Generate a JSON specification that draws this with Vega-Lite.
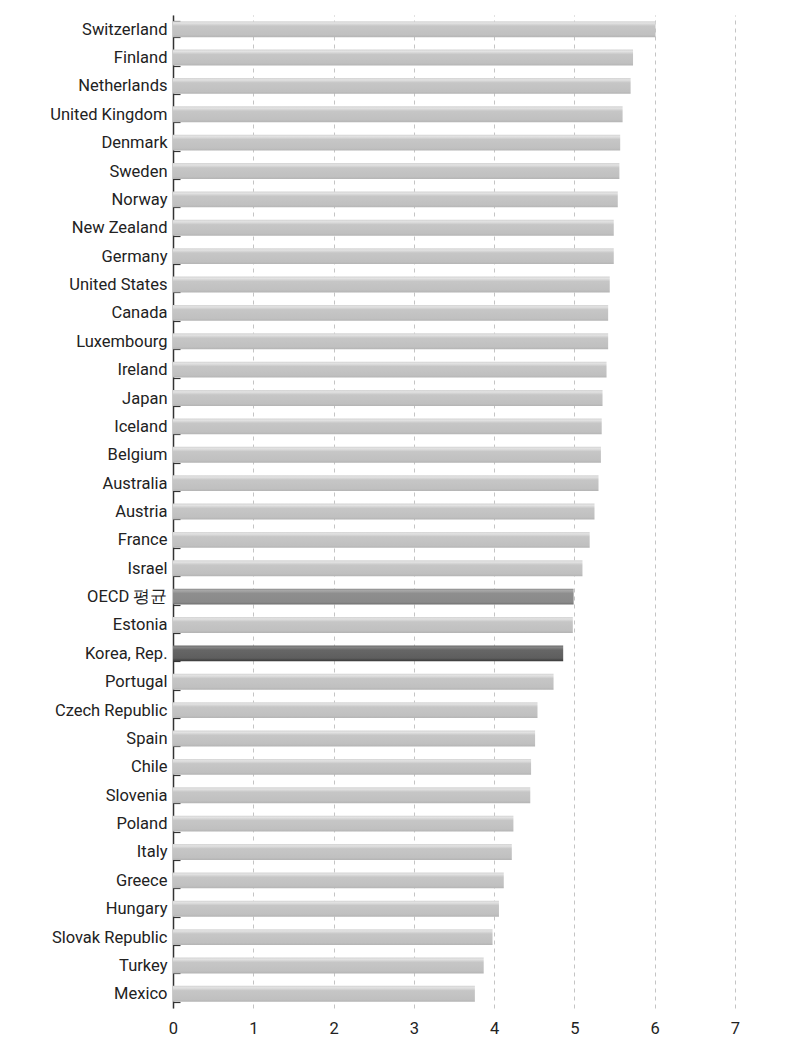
{
  "$schema": "https://vega.github.io/schema/vega-lite/v6.json",
  "width": 562,
  "height": 993,
  "autosize": "none",
  "padding": {"left": 173, "top": 15, "right": 61, "bottom": 55},
  "background": "white",
  "config": {
    "view": {"stroke": null},
    "font": "Roboto"
  },
  "data": {
    "values": [
      {"country": "Switzerland", "value": 6.01, "group": "other"},
      {"country": "Finland", "value": 5.73, "group": "other"},
      {"country": "Netherlands", "value": 5.70, "group": "other"},
      {"country": "United Kingdom", "value": 5.60, "group": "other"},
      {"country": "Denmark", "value": 5.57, "group": "other"},
      {"country": "Sweden", "value": 5.56, "group": "other"},
      {"country": "Norway", "value": 5.54, "group": "other"},
      {"country": "New Zealand", "value": 5.49, "group": "other"},
      {"country": "Germany", "value": 5.49, "group": "other"},
      {"country": "United States", "value": 5.44, "group": "other"},
      {"country": "Canada", "value": 5.42, "group": "other"},
      {"country": "Luxembourg", "value": 5.42, "group": "other"},
      {"country": "Ireland", "value": 5.40, "group": "other"},
      {"country": "Japan", "value": 5.35, "group": "other"},
      {"country": "Iceland", "value": 5.34, "group": "other"},
      {"country": "Belgium", "value": 5.33, "group": "other"},
      {"country": "Australia", "value": 5.30, "group": "other"},
      {"country": "Austria", "value": 5.25, "group": "other"},
      {"country": "France", "value": 5.19, "group": "other"},
      {"country": "Israel", "value": 5.10, "group": "other"},
      {"country": "OECD 평균", "value": 4.99, "group": "oecd"},
      {"country": "Estonia", "value": 4.98, "group": "other"},
      {"country": "Korea, Rep.", "value": 4.86, "group": "korea"},
      {"country": "Portugal", "value": 4.74, "group": "other"},
      {"country": "Czech Republic", "value": 4.54, "group": "other"},
      {"country": "Spain", "value": 4.51, "group": "other"},
      {"country": "Chile", "value": 4.46, "group": "other"},
      {"country": "Slovenia", "value": 4.45, "group": "other"},
      {"country": "Poland", "value": 4.24, "group": "other"},
      {"country": "Italy", "value": 4.22, "group": "other"},
      {"country": "Greece", "value": 4.12, "group": "other"},
      {"country": "Hungary", "value": 4.06, "group": "other"},
      {"country": "Slovak Republic", "value": 3.98, "group": "other"},
      {"country": "Turkey", "value": 3.87, "group": "other"},
      {"country": "Mexico", "value": 3.76, "group": "other"}
    ]
  },
  "encoding": {
    "y": {
      "field": "country",
      "type": "nominal",
      "sort": null,
      "scale": {
        "domain": ["Switzerland", "Finland", "Netherlands", "United Kingdom", "Denmark", "Sweden", "Norway", "New Zealand", "Germany", "United States", "Canada", "Luxembourg", "Ireland", "Japan", "Iceland", "Belgium", "Australia", "Austria", "France", "Israel", "OECD 평균", "Estonia", "Korea, Rep.", "Portugal", "Czech Republic", "Spain", "Chile", "Slovenia", "Poland", "Italy", "Greece", "Hungary", "Slovak Republic", "Turkey", "Mexico"],
        "paddingInner": 0.44,
        "paddingOuter": 0.22
      },
      "axis": {
        "title": null,
        "tickBand": "extent",
        "tickSize": -7,
        "tickColor": "#333333",
        "tickWidth": 1.2,
        "domainColor": "#333333",
        "domainWidth": 1.5,
        "labelFontSize": 16.5,
        "labelColor": "#222222",
        "labelPadding": 13,
        "grid": false
      }
    },
    "x": {
      "field": "value",
      "type": "quantitative",
      "scale": {"domain": [0, 7], "nice": false},
      "axis": {
        "title": null,
        "values": [0, 1, 2, 3, 4, 5, 6, 7],
        "domain": false,
        "ticks": false,
        "labelFlush": false,
        "labelFontSize": 16.5,
        "labelColor": "#222222",
        "labelPadding": 12,
        "grid": true,
        "gridColor": "#c4c4c4",
        "gridDash": [4, 4],
        "gridWidth": 1
      }
    }
  },
  "layer": [
    {
      "transform": [{"filter": "datum.group === 'other'"}],
      "mark": {
        "type": "bar",
        "color": {
          "gradient": "linear", "x1": 0, "y1": 0, "x2": 0, "y2": 1,
          "stops": [
            {"offset": 0, "color": "#d4d4d4"},
            {"offset": 0.12, "color": "#e2e2e2"},
            {"offset": 0.3, "color": "#c6c6c6"},
            {"offset": 0.85, "color": "#c0c0c0"},
            {"offset": 1, "color": "#b4b4b4"}
          ]
        }
      }
    },
    {
      "transform": [{"filter": "datum.group === 'oecd'"}],
      "mark": {
        "type": "bar",
        "color": {
          "gradient": "linear", "x1": 0, "y1": 0, "x2": 0, "y2": 1,
          "stops": [
            {"offset": 0, "color": "#8a8a8a"},
            {"offset": 0.12, "color": "#a8a8a8"},
            {"offset": 0.3, "color": "#8e8e8e"},
            {"offset": 0.85, "color": "#8a8a8a"},
            {"offset": 1, "color": "#6e6e6e"}
          ]
        }
      }
    },
    {
      "transform": [{"filter": "datum.group === 'korea'"}],
      "mark": {
        "type": "bar",
        "color": {
          "gradient": "linear", "x1": 0, "y1": 0, "x2": 0, "y2": 1,
          "stops": [
            {"offset": 0, "color": "#6a6a6a"},
            {"offset": 0.12, "color": "#858585"},
            {"offset": 0.3, "color": "#666666"},
            {"offset": 0.8, "color": "#5e5e5e"},
            {"offset": 1, "color": "#383838"}
          ]
        }
      }
    }
  ]
}
